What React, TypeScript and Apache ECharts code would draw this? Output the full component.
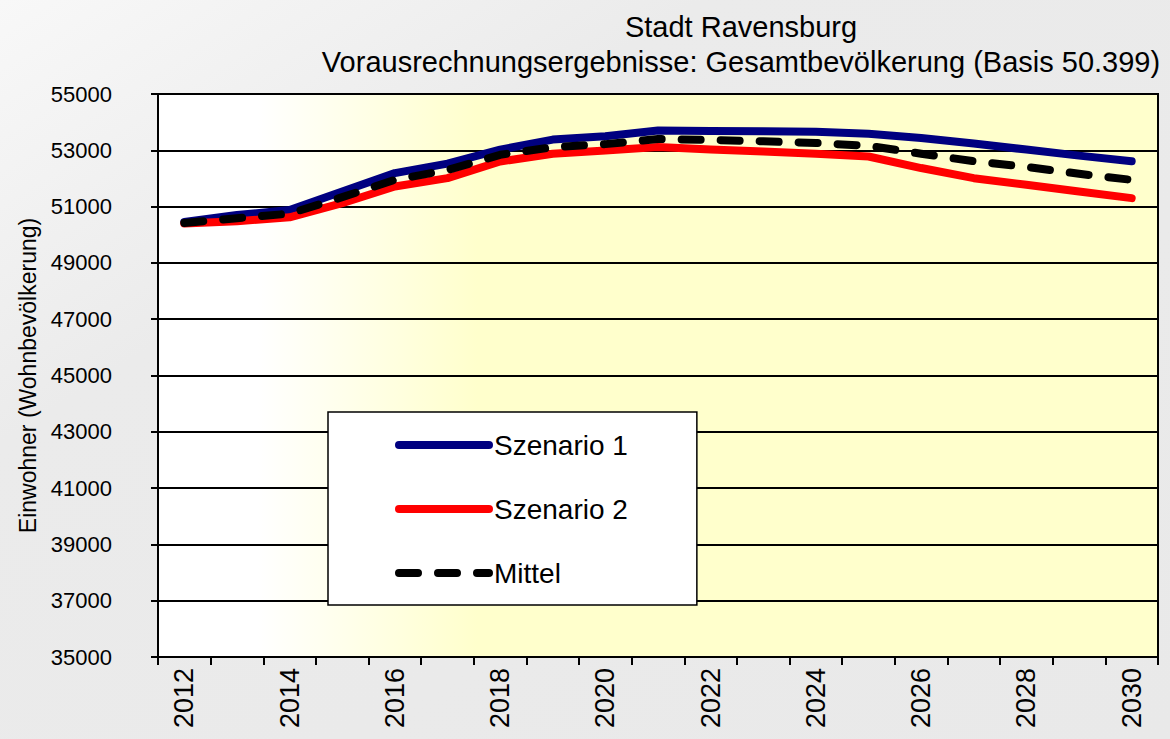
import React, { useEffect, useRef } from "react";
import * as echarts from "echarts";

const years = ["2012","2013","2014","2015","2016","2017","2018","2019","2020","2021","2022","2023","2024","2025","2026","2027","2028","2029","2030"];
const szenario1 = [50450, 50700, 50880, 51540, 52190, 52525, 53025, 53380, 53500, 53700, 53690, 53680, 53655, 53585, 53440, 53240, 53025, 52810, 52610];
const szenario2 = [50400, 50480, 50620, 51120, 51715, 52010, 52600, 52880, 52990, 53120, 53025, 52960, 52880, 52780, 52370, 52010, 51775, 51535, 51300];
const mittel = [50420, 50590, 50750, 51335, 51950, 52300, 52840, 53110, 53220, 53400, 53370, 53320, 53260, 53160, 52880, 52610, 52410, 52165, 51950];

const titleText = "Stadt Ravensburg\nVorausrechnungsergebnisse: Gesamtbevölkerung (Basis 50.399)";
const yAxisName = "Einwohner (Wohnbevölkerung)";

export default function App() {
  const ref = useRef<HTMLDivElement>(null);
  useEffect(() => {
    if (!ref.current) return;
    const chart = echarts.init(ref.current, null, { renderer: "svg" });
    const font = "Liberation Sans, Arial, sans-serif";
    chart.setOption({
      animation: false,
      backgroundColor: new echarts.graphic.LinearGradient(0, 0, 1, 1, [
        { offset: 0, color: "#f8f8f8" },
        { offset: 0.3, color: "#ebebeb" },
        { offset: 1, color: "#e9e9e9" },
      ]),
      textStyle: { fontFamily: font, color: "#000" },
      title: {
        text: titleText,
        left: 736,
        top: 4,
        textAlign: "center",
        textStyle: { fontFamily: font, fontSize: 29, fontWeight: "normal", color: "#000", lineHeight: 35 },
      },
      legend: {
        orient: "vertical",
        left: 328,
        top: 412,
        padding: [17, 69, 16, 67],
        backgroundColor: "#fff",
        borderColor: "#000",
        borderWidth: 1.5,
        itemWidth: 90,
        itemHeight: 14,
        itemGap: 32,
        itemTextGap: 5,
        textStyle: { fontFamily: font, fontSize: 28, color: "#000", lineHeight: 32 },
        lineStyle: { width: 8 },
        itemStyle: { opacity: 0 },
        data: ["Szenario 1", "Szenario 2", "Mittel"],
      },
      grid: {
        left: 158,
        right: 12,
        top: 94,
        bottom: 82,
        show: true,
        borderColor: "#000",
        borderWidth: 2,
        backgroundColor: new echarts.graphic.LinearGradient(0, 0, 1, 0, [
          { offset: 0, color: "#ffffff" },
          { offset: 0.1, color: "#ffffff" },
          { offset: 0.32, color: "#ffffcc" },
          { offset: 1, color: "#ffffcc" },
        ]),
      },
      xAxis: {
        type: "category",
        data: years,
        boundaryGap: true,
        axisLine: { lineStyle: { color: "#000", width: 2 } },
        axisTick: { show: true, interval: 0, length: 8, lineStyle: { color: "#000", width: 2 } },
        axisLabel: { interval: 1, rotate: 90, margin: 11, fontSize: 27, color: "#000", fontFamily: font },
        splitLine: { show: false },
      },
      yAxis: {
        type: "value",
        min: 35000,
        max: 55000,
        interval: 2000,
        name: yAxisName,
        nameLocation: "middle",
        nameGap: 112,
        nameTextStyle: { fontSize: 23, color: "#000", fontFamily: font },
        axisLine: { show: true, lineStyle: { color: "#000", width: 2 } },
        axisTick: { show: true, length: 7, lineStyle: { color: "#000", width: 2 } },
        axisLabel: { margin: 46, fontSize: 22, color: "#000", fontFamily: font, formatter: (v: number) => String(v) },
        splitLine: { show: true, lineStyle: { color: "#000", width: 2 } },
      },
      series: [
        {
          name: "Szenario 1",
          type: "line",
          data: szenario1,
          symbol: "none",
          color: "#000080",
          lineStyle: { color: "#000080", width: 8, cap: "round", join: "round" },
        },
        {
          name: "Szenario 2",
          type: "line",
          data: szenario2,
          symbol: "none",
          color: "#ff0000",
          lineStyle: { color: "#ff0000", width: 8, cap: "round", join: "round" },
        },
        {
          name: "Mittel",
          type: "line",
          data: mittel,
          symbol: "none",
          color: "#000000",
          lineStyle: { color: "#000000", width: 8, type: [19, 20], cap: "round", join: "round" },
        },
      ],
    });
    return () => chart.dispose();
  }, []);
  return <div ref={ref} style={{ position: "fixed", left: 0, top: 0, width: 1170, height: 739 }} />;
}
